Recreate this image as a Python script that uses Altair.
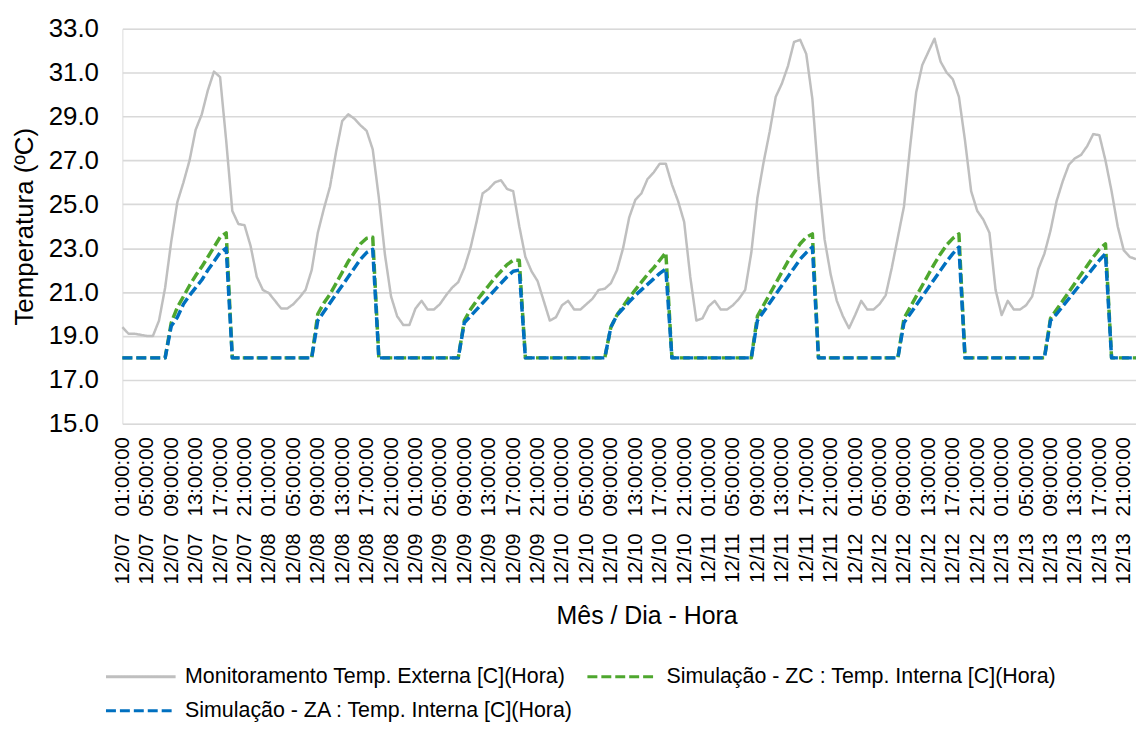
import altair as alt
import pandas as pd

# ---------------- data ----------------
N = 167  # hourly points, 12/07 01:00 ... 12/13 23:00
categories = []
for k in range(N):
    day = 7 + (k + 1) // 24
    hour = (k + 1) % 24
    categories.append(f"12/{day:02d} {hour:02d}:00:00")
tick_labels = categories[::4]

monitoramento = [
    19.4, 19.1, 19.1, 19.05, 19.0, 19.0, 19.7, 21.2, 23.3, 25.1,
    26.0, 27.0, 28.4, 29.1, 30.2, 31.05, 30.8, 27.9, 24.7, 24.1,
    24.05, 23.1, 21.7, 21.1, 20.95, 20.6, 20.25, 20.25, 20.45, 20.75,
    21.1, 22.0, 23.7, 24.8, 25.8, 27.4, 28.8, 29.1, 28.9, 28.6,
    28.35, 27.5, 25.3, 22.7, 20.8, 19.9, 19.5, 19.5, 20.25, 20.6,
    20.2, 20.2, 20.45, 20.85, 21.2, 21.45, 22.1, 23.0, 24.2, 25.5,
    25.7, 26.0, 26.1, 25.7, 25.6, 24.0, 22.6, 21.95, 21.5, 20.6,
    19.7, 19.85, 20.4, 20.6, 20.2, 20.2, 20.45, 20.7, 21.1, 21.15,
    21.4, 22.0, 23.0, 24.4, 25.2, 25.5, 26.15, 26.45, 26.85, 26.85,
    25.9, 25.15, 24.2, 21.7, 19.7, 19.8, 20.35, 20.6, 20.2, 20.2,
    20.4, 20.7, 21.1, 22.8, 25.3, 26.9, 28.3, 29.9, 30.5, 31.3,
    32.4, 32.5, 31.85, 29.8, 26.2, 23.4, 21.8, 20.6, 19.9, 19.35,
    19.95, 20.6, 20.2, 20.2, 20.45, 20.85, 22.1, 23.5, 24.9, 27.6,
    30.1, 31.35, 31.95, 32.55, 31.5, 31.0, 30.7, 29.9, 27.9, 25.6,
    24.7, 24.3, 23.7, 21.1, 19.95, 20.6, 20.2, 20.2, 20.4, 20.8,
    22.05, 22.75, 23.8, 25.15, 26.05, 26.8, 27.1, 27.25, 27.65, 28.2,
    28.15, 27.0, 25.6, 24.0, 22.9, 22.6, 22.5,
]

sim_zc = [
    18.0, 18.0, 18.0, 18.0, 18.0, 18.0, 18.0, 18.0,
    19.6, 20.3, 20.8, 21.3, 21.75, 22.15, 22.6, 23.05, 23.5, 23.7,
    18.0, 18.0, 18.0, 18.0, 18.0, 18.0, 18.0, 18.0, 18.0, 18.0, 18.0, 18.0, 18.0, 18.0,
    20.0, 20.5, 20.9, 21.4, 21.9, 22.4, 22.8, 23.2, 23.45, 23.5,
    18.0, 18.0, 18.0, 18.0, 18.0, 18.0, 18.0, 18.0, 18.0, 18.0, 18.0, 18.0, 18.0, 18.0,
    19.7, 20.2, 20.6, 20.95, 21.3, 21.65, 21.95, 22.25, 22.45, 22.45,
    18.0, 18.0, 18.0, 18.0, 18.0, 18.0, 18.0, 18.0, 18.0, 18.0, 18.0, 18.0, 18.0, 18.0,
    19.4, 19.95, 20.35, 20.75, 21.1, 21.45, 21.8, 22.1, 22.45, 22.8,
    18.0, 18.0, 18.0, 18.0, 18.0, 18.0, 18.0, 18.0, 18.0, 18.0, 18.0, 18.0, 18.0, 18.0,
    19.9, 20.4, 20.9, 21.4, 21.9, 22.4, 22.8, 23.2, 23.5, 23.65,
    18.0, 18.0, 18.0, 18.0, 18.0, 18.0, 18.0, 18.0, 18.0, 18.0, 18.0, 18.0, 18.0, 18.0,
    19.8, 20.3, 20.8, 21.3, 21.8, 22.3, 22.75, 23.15, 23.45, 23.65,
    18.0, 18.0, 18.0, 18.0, 18.0, 18.0, 18.0, 18.0, 18.0, 18.0, 18.0, 18.0, 18.0, 18.0,
    19.8, 20.2, 20.6, 21.0, 21.4, 21.8, 22.2, 22.6, 22.95, 23.2,
    18.0, 18.0, 18.0, 18.0, 18.0,
]

sim_za = [
    18.0, 18.0, 18.0, 18.0, 18.0, 18.0, 18.0, 18.0,
    19.45, 19.85, 20.45, 20.85, 21.2, 21.55, 22.0, 22.4, 22.8, 23.0,
    18.0, 18.0, 18.0, 18.0, 18.0, 18.0, 18.0, 18.0, 18.0, 18.0, 18.0, 18.0, 18.0, 18.0,
    19.7, 20.1, 20.5, 20.9, 21.3, 21.7, 22.1, 22.5, 22.8, 22.95,
    18.0, 18.0, 18.0, 18.0, 18.0, 18.0, 18.0, 18.0, 18.0, 18.0, 18.0, 18.0, 18.0, 18.0,
    19.6, 19.9, 20.2, 20.5, 20.8, 21.1, 21.4, 21.7, 21.95, 22.0,
    18.0, 18.0, 18.0, 18.0, 18.0, 18.0, 18.0, 18.0, 18.0, 18.0, 18.0, 18.0, 18.0, 18.0,
    19.4, 19.95, 20.25, 20.55, 20.85, 21.1, 21.35, 21.6, 21.85, 22.05,
    18.0, 18.0, 18.0, 18.0, 18.0, 18.0, 18.0, 18.0, 18.0, 18.0, 18.0, 18.0, 18.0, 18.0,
    19.7, 20.1, 20.5, 20.9, 21.3, 21.7, 22.1, 22.5, 22.8, 23.05,
    18.0, 18.0, 18.0, 18.0, 18.0, 18.0, 18.0, 18.0, 18.0, 18.0, 18.0, 18.0, 18.0, 18.0,
    19.6, 20.0, 20.4, 20.8, 21.2, 21.6, 22.0, 22.4, 22.75, 23.05,
    18.0, 18.0, 18.0, 18.0, 18.0, 18.0, 18.0, 18.0, 18.0, 18.0, 18.0, 18.0, 18.0, 18.0,
    19.7, 20.0, 20.35, 20.7, 21.05, 21.4, 21.75, 22.1, 22.45, 22.75,
    18.0, 18.0, 18.0, 18.0, 18.0,
]

series_names = [
    "Monitoramento Temp. Externa [C](Hora)",
    "Simulação - ZC : Temp. Interna [C](Hora)",
    "Simulação - ZA : Temp. Interna [C](Hora)",
]
series_values = [monitoramento, sim_zc, sim_za]
series_colors = ["#BFBFBF", "#4EA72E", "#0070C0"]
series_dash = [[1, 0], [10, 4], [10, 4]]
series_width = [2.5, 3.5, 3.5]

rows = []
for name, vals in zip(series_names, series_values):
    for k, (c, v) in enumerate(zip(categories, vals)):
        rows.append({"t": c, "i": k, "v": v, "s": name})
df = pd.DataFrame(rows)

FONT = "Liberation Sans"
NBSP3 = "\u00a0\u00a0\u00a0"

legend = alt.Legend(
    title=None, orient="none", legendX=3, legendY=636, columns=2,
    direction="horizontal",
    symbolType="M-2.5,0H2.5", symbolSize=784, symbolStrokeWidth=3,
    symbolFillColor="transparent",
    labelFontSize=21.5, labelFont=FONT, labelColor="black", labelLimit=700,
    labelOffset=29, columnPadding=7, rowPadding=8, padding=0,
)

x_axis = alt.Axis(
    values=tick_labels, labelAngle=270, labelFontSize=20.5, labelFont=FONT,
    labelColor="black", labelPadding=13, ticks=False, domain=False, grid=False,
    labelOverlap=False, labelLimit=400,
    labelExpr=f"replace(datum.label, ' ', '{NBSP3}')",
    titleFontSize=25, titleFont=FONT, titleFontWeight="normal", titleColor="black",
    titleX=527, titleY=201, titleAlign="center", titleBaseline="alphabetic",
)
y_axis = alt.Axis(
    values=list(range(15, 34, 2)), format=".1f", labelFontSize=26, labelFont=FONT,
    labelColor="black", labelPadding=24, ticks=False, domain=False,
    gridColor="#D9D9D9", gridWidth=1.6,
    titleFontSize=26, titleFont=FONT, titleFontWeight="normal", titleColor="black",
    titleX=-90, titleY=198.5, titleAngle=270, titleAlign="center",
    titleBaseline="alphabetic",
)

layers = []
for name, w in zip(series_names, series_width):
    layers.append(
        alt.Chart(df)
        .transform_filter(alt.datum.s == name)
        .mark_line(strokeWidth=w, strokeJoin="round", strokeCap="butt")
        .encode(
            x=alt.X("t:N", title="Mês / Dia - Hora",
                    scale=alt.Scale(type="point", domain=categories, padding=0),
                    axis=x_axis),
            y=alt.Y("v:Q", title="Temperatura (ºC)",
                    scale=alt.Scale(domain=[15, 33], nice=False, zero=False),
                    axis=y_axis),
            color=alt.Color("s:N", sort=series_names,
                            scale=alt.Scale(domain=series_names, range=series_colors),
                            legend=legend),
            strokeDash=alt.StrokeDash("s:N", sort=series_names,
                                      scale=alt.Scale(domain=series_names, range=series_dash),
                                      legend=legend),
            order=alt.Order("i:Q"),
        )
    )

chart = (
    alt.layer(*layers)
    .properties(
        width=1019, height=397,
        autosize=alt.AutoSizeParams(type="none"),
        padding={"left": 115, "top": 19, "right": 0, "bottom": 301},
        background="white",
    )
    .configure_view(stroke=None)
    .configure(font=FONT)
)

chart.save("out.html", embed_options={"renderer": "svg", "actions": False})
